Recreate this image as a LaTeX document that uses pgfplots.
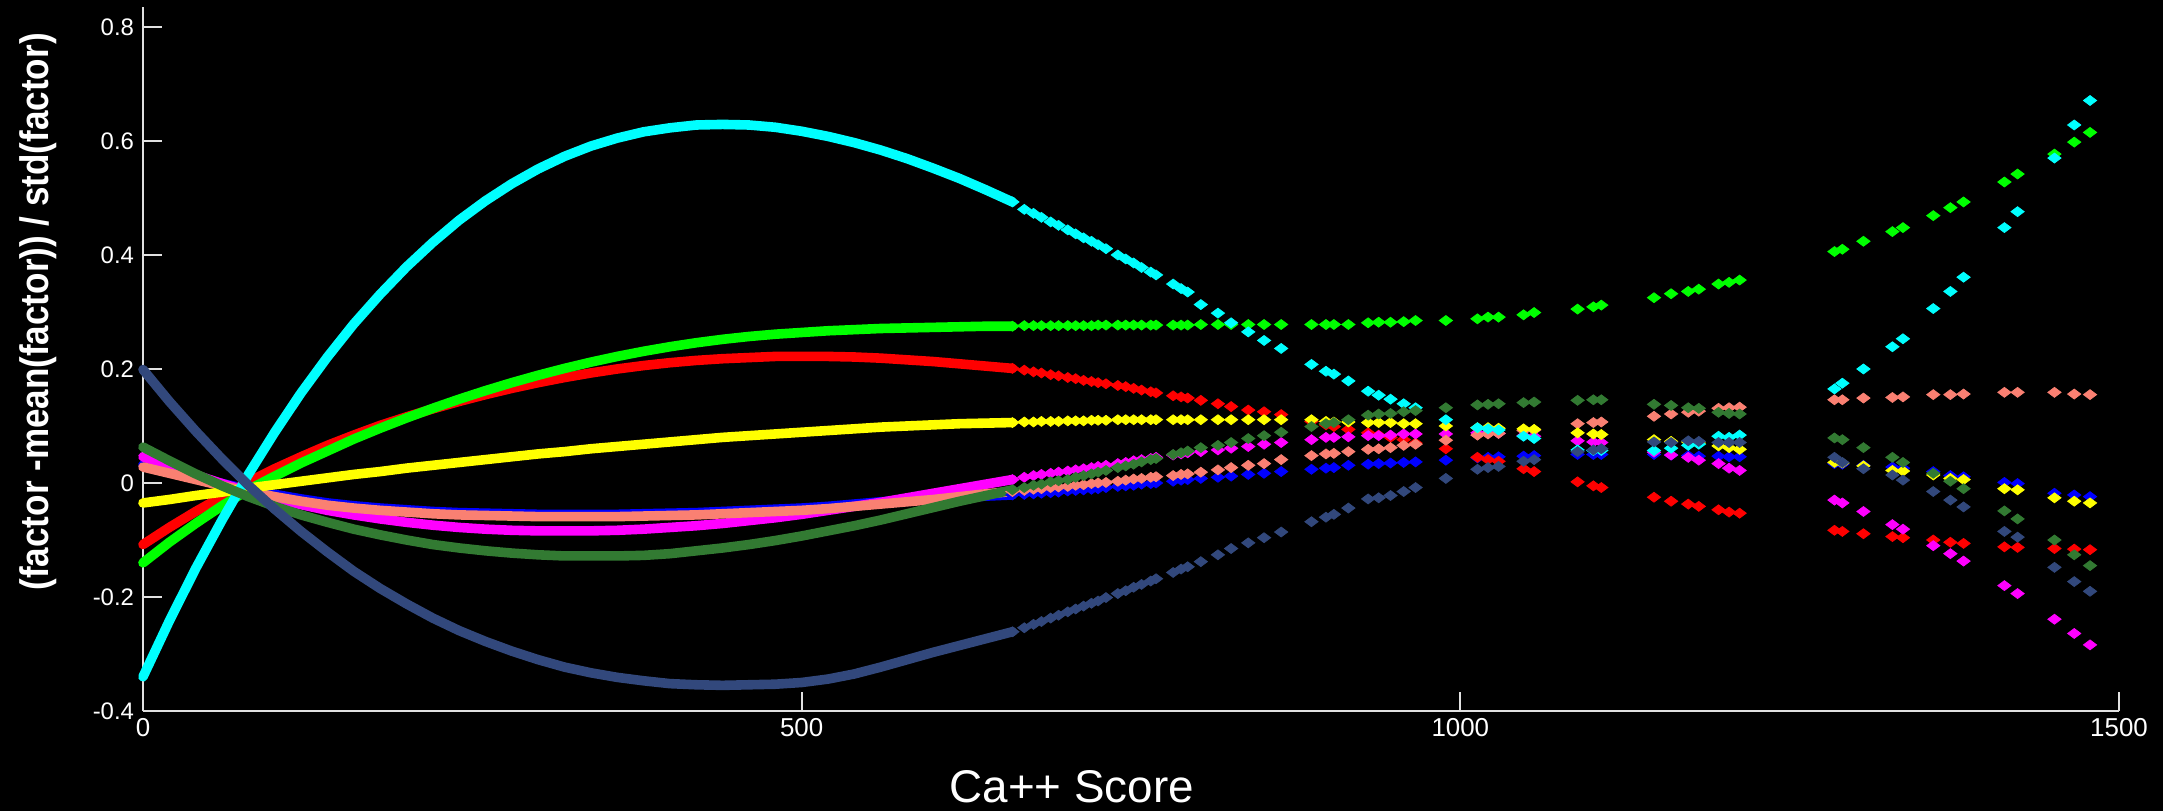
\documentclass[border=0pt]{standalone}
\usepackage{fontspec}
\setmainfont{Liberation Sans}
\newfontfamily\ylabfont[FakeStretch=0.88]{Liberation Sans}
\usepackage{pgfplots}
\usepackage{pgfplotstable}
\pgfplotsset{compat=1.18}
\definecolor{cCy}{RGB}{0,255,255}
\definecolor{cGr}{RGB}{0,255,0}
\definecolor{cRd}{RGB}{255,0,0}
\definecolor{cYe}{RGB}{255,255,0}
\definecolor{cMg}{RGB}{255,0,255}
\definecolor{cSa}{RGB}{250,128,114}
\definecolor{cBl}{RGB}{0,0,255}
\definecolor{cDg}{RGB}{50,122,50}
\definecolor{cNv}{RGB}{50,72,124}
\definecolor{axgray}{RGB}{225,225,225}

\pgfplotstableread{
x cy gr rd ye mg sa bl dg nv
0 -0.340 -0.140 -0.108 -0.035 0.046 0.028 0.032 0.063 0.199
20 -0.242 -0.104 -0.078 -0.029 0.030 0.017 0.021 0.039 0.143
40 -0.150 -0.071 -0.050 -0.022 0.014 0.006 0.010 0.016 0.091
60 -0.065 -0.040 -0.024 -0.016 -0.001 -0.005 -0.001 -0.005 0.042
80 0.015 -0.012 0.002 -0.009 -0.015 -0.015 -0.011 -0.024 -0.004
100 0.089 0.012 0.025 -0.003 -0.027 -0.024 -0.020 -0.041 -0.046
120 0.158 0.035 0.046 0.003 -0.038 -0.032 -0.028 -0.056 -0.085
140 0.221 0.056 0.066 0.009 -0.048 -0.039 -0.035 -0.069 -0.121
160 0.279 0.077 0.084 0.015 -0.056 -0.044 -0.040 -0.081 -0.155
180 0.331 0.096 0.101 0.020 -0.063 -0.048 -0.044 -0.091 -0.185
200 0.379 0.114 0.116 0.026 -0.069 -0.051 -0.047 -0.100 -0.212
220 0.422 0.131 0.130 0.031 -0.074 -0.054 -0.050 -0.108 -0.237
240 0.461 0.147 0.143 0.036 -0.078 -0.056 -0.052 -0.114 -0.259
260 0.495 0.162 0.155 0.041 -0.081 -0.057 -0.053 -0.119 -0.278
280 0.525 0.176 0.166 0.046 -0.083 -0.058 -0.054 -0.123 -0.295
300 0.551 0.189 0.176 0.051 -0.084 -0.059 -0.055 -0.126 -0.310
320 0.573 0.201 0.185 0.055 -0.084 -0.059 -0.055 -0.128 -0.323
340 0.591 0.212 0.193 0.060 -0.084 -0.059 -0.055 -0.128 -0.333
360 0.605 0.222 0.200 0.064 -0.083 -0.059 -0.055 -0.128 -0.341
380 0.616 0.231 0.206 0.068 -0.081 -0.058 -0.054 -0.127 -0.347
400 0.623 0.239 0.211 0.072 -0.078 -0.057 -0.053 -0.124 -0.352
420 0.628 0.246 0.215 0.076 -0.075 -0.056 -0.052 -0.119 -0.354
440 0.629 0.252 0.218 0.080 -0.071 -0.054 -0.050 -0.114 -0.355
460 0.628 0.257 0.220 0.083 -0.066 -0.052 -0.048 -0.108 -0.354
480 0.624 0.261 0.222 0.086 -0.061 -0.050 -0.046 -0.101 -0.353
500 0.617 0.264 0.222 0.089 -0.055 -0.048 -0.044 -0.093 -0.350
520 0.608 0.267 0.222 0.092 -0.048 -0.045 -0.041 -0.084 -0.344
540 0.597 0.269 0.221 0.095 -0.041 -0.041 -0.037 -0.075 -0.335
560 0.584 0.271 0.219 0.098 -0.034 -0.037 -0.033 -0.065 -0.323
580 0.569 0.272 0.216 0.100 -0.026 -0.033 -0.030 -0.054 -0.310
600 0.552 0.273 0.213 0.102 -0.018 -0.029 -0.027 -0.043 -0.297
620 0.534 0.274 0.209 0.104 -0.010 -0.024 -0.025 -0.032 -0.285
640 0.514 0.275 0.205 0.105 -0.002 -0.019 -0.023 -0.022 -0.273
660 0.493 0.275 0.201 0.106 0.006 -0.015 -0.021 -0.012 -0.261
}\dense

\pgfplotstableread{
x cy gr rd ye mg sa bl dg nv
660 0.493 0.275 0.201 0.106 0.006 -0.015 -0.021 -0.012 -0.261
669 0.480 0.276 0.198 0.107 0.010 -0.013 -0.020 -0.008 -0.254
676 0.473 0.276 0.195 0.107 0.013 -0.011 -0.019 -0.004 -0.248
682 0.466 0.276 0.193 0.108 0.015 -0.010 -0.018 -0.002 -0.243
689 0.458 0.276 0.190 0.108 0.017 -0.008 -0.017 0.002 -0.237
695 0.452 0.276 0.188 0.108 0.019 -0.007 -0.016 0.004 -0.232
702 0.444 0.276 0.185 0.109 0.021 -0.006 -0.014 0.006 -0.226
708 0.437 0.276 0.183 0.109 0.023 -0.004 -0.013 0.010 -0.221
714 0.430 0.276 0.180 0.109 0.025 -0.003 -0.012 0.013 -0.216
720 0.424 0.276 0.178 0.110 0.027 -0.001 -0.011 0.016 -0.211
725 0.418 0.277 0.176 0.110 0.029 0.000 -0.010 0.019 -0.207
731 0.411 0.277 0.174 0.110 0.031 0.001 -0.008 0.022 -0.201
740 0.400 0.277 0.171 0.111 0.034 0.003 -0.006 0.027 -0.194
746 0.393 0.277 0.169 0.111 0.036 0.005 -0.005 0.030 -0.189
752 0.386 0.277 0.166 0.111 0.039 0.007 -0.004 0.033 -0.183
758 0.378 0.277 0.163 0.111 0.041 0.008 -0.002 0.037 -0.178
765 0.370 0.277 0.160 0.111 0.043 0.010 -0.001 0.041 -0.172
769 0.365 0.277 0.158 0.111 0.045 0.011 0.000 0.043 -0.168
782 0.349 0.277 0.153 0.111 0.049 0.013 0.003 0.050 -0.157
788 0.341 0.277 0.151 0.111 0.051 0.015 0.005 0.053 -0.151
793 0.335 0.277 0.149 0.111 0.053 0.016 0.006 0.056 -0.147
803 0.313 0.278 0.145 0.111 0.055 0.019 0.008 0.062 -0.138
816 0.298 0.278 0.139 0.111 0.058 0.023 0.010 0.066 -0.126
826 0.281 0.278 0.134 0.111 0.061 0.027 0.012 0.071 -0.115
839 0.265 0.278 0.128 0.111 0.064 0.031 0.015 0.078 -0.105
851 0.250 0.278 0.125 0.111 0.068 0.034 0.017 0.083 -0.096
864 0.236 0.278 0.120 0.111 0.071 0.041 0.020 0.089 -0.086
887 0.208 0.278 0.108 0.111 0.076 0.048 0.024 0.099 -0.068
898 0.196 0.278 0.102 0.108 0.080 0.051 0.026 0.104 -0.060
904 0.191 0.278 0.099 0.107 0.080 0.052 0.027 0.106 -0.055
915 0.179 0.278 0.094 0.107 0.081 0.055 0.031 0.111 -0.044
930 0.161 0.281 0.088 0.106 0.083 0.059 0.033 0.119 -0.028
938 0.154 0.282 0.084 0.106 0.083 0.060 0.034 0.121 -0.026
947 0.147 0.282 0.080 0.106 0.084 0.062 0.035 0.122 -0.022
957 0.139 0.283 0.076 0.104 0.086 0.066 0.036 0.125 -0.015
966 0.132 0.285 0.070 0.104 0.086 0.068 0.037 0.127 -0.008
989 0.111 0.285 0.060 0.100 0.086 0.075 0.040 0.132 0.008
1013 0.097 0.288 0.045 0.097 0.088 0.084 0.044 0.137 0.024
1021 0.095 0.291 0.041 0.097 0.088 0.086 0.045 0.138 0.027
1029 0.093 0.291 0.038 0.096 0.087 0.087 0.046 0.139 0.029
1048 0.082 0.295 0.025 0.095 0.083 0.092 0.047 0.141 0.038
1056 0.078 0.299 0.020 0.094 0.082 0.093 0.048 0.142 0.041
1089 0.058 0.305 0.002 0.088 0.074 0.104 0.050 0.145 0.055
1101 0.057 0.309 -0.005 0.086 0.072 0.106 0.050 0.146 0.058
1107 0.057 0.312 -0.008 0.085 0.071 0.107 0.050 0.146 0.060
1147 0.057 0.325 -0.025 0.076 0.054 0.117 0.050 0.138 0.072
1160 0.061 0.332 -0.032 0.073 0.049 0.121 0.049 0.136 0.071
1173 0.066 0.336 -0.037 0.072 0.045 0.124 0.048 0.132 0.074
1181 0.068 0.340 -0.041 0.070 0.040 0.126 0.047 0.131 0.073
1196 0.082 0.349 -0.047 0.065 0.034 0.131 0.047 0.124 0.071
1204 0.080 0.352 -0.051 0.062 0.026 0.132 0.046 0.122 0.071
1212 0.084 0.356 -0.053 0.059 0.022 0.133 0.046 0.121 0.071
1284 0.165 0.406 -0.083 0.036 -0.030 0.146 0.034 0.079 0.045
1290 0.175 0.410 -0.085 0.035 -0.035 0.146 0.033 0.076 0.036
1306 0.200 0.424 -0.089 0.030 -0.050 0.149 0.031 0.062 0.025
1328 0.239 0.441 -0.094 0.022 -0.073 0.150 0.028 0.045 0.014
1336 0.253 0.448 -0.096 0.021 -0.081 0.151 0.026 0.036 0.005
1359 0.306 0.469 -0.100 0.014 -0.110 0.155 0.020 0.017 -0.015
1372 0.336 0.483 -0.104 0.008 -0.124 0.155 0.013 0.003 -0.030
1382 0.361 0.493 -0.106 0.006 -0.137 0.156 0.011 -0.010 -0.042
1413 0.448 0.528 -0.112 -0.010 -0.180 0.159 0.001 -0.049 -0.085
1423 0.476 0.542 -0.113 -0.012 -0.194 0.159 -0.001 -0.063 -0.095
1451 0.570 0.577 -0.115 -0.026 -0.239 0.159 -0.018 -0.100 -0.148
1466 0.628 0.598 -0.116 -0.032 -0.264 0.156 -0.021 -0.126 -0.173
1478 0.671 0.615 -0.117 -0.035 -0.284 0.155 -0.024 -0.145 -0.190
}\marks

\pgfplotsset{
  rib/.style={draw=#1, line width=4.8bp, line cap=round, line join=round, no markers},
  dots/.style={only marks, color=#1, mark=diamond*, mark size=3.3bp,
    mark options={rotate=90, draw=none, fill=#1}},
}

\begin{document}
\begin{tikzpicture}
\fill[black] (-71.5bp,-50bp) rectangle (1010bp,355.5bp);
\useasboundingbox (-71.5bp,-50bp) rectangle (1010bp,355.5bp);
\begin{axis}[
  at={(0,0)}, anchor=south west,
  scale only axis, width=988bp, height=352bp,
  xmin=0, xmax=1500, ymin=-0.4, ymax=0.835,
  axis lines=left,
  axis line style={-, draw=axgray, line width=1.3bp},
  tick style={draw=axgray, line width=0.9bp},
  major tick length=9.5bp, tick align=inside,
  xtick={0,500,1000,1500},
  ytick={-0.4,-0.2,0,0.2,0.4,0.6,0.8},
  scaled ticks=false,
  /pgf/number format/assume math mode=true,
  /pgf/number format/1000 sep={},
  xticklabel style={font=\fontsize{13}{15}\selectfont, text=white},
  yticklabel style={font=\fontsize{12}{14}\selectfont, text=white, xshift=-1bp},
  xlabel={Ca++ Score},
  xlabel style={font=\fontsize{23}{26}\selectfont, text=white,
    at={(axis description cs:0.47,-0.108)}, anchor=center},
  ylabel={(factor -mean(factor)) / std(factor)},
  ylabel style={font=\ylabfont\bfseries\fontsize{20}{22}\selectfont, text=white,
    at={(axis description cs:-0.053,0.567)}, anchor=center},
  clip=false,
]
\addplot[rib=cBl] table[x=x,y=bl]{\dense};
\addplot[dots=cBl] table[x=x,y=bl]{\marks};
\addplot[rib=cRd] table[x=x,y=rd]{\dense};
\addplot[dots=cRd] table[x=x,y=rd]{\marks};
\addplot[rib=cGr] table[x=x,y=gr]{\dense};
\addplot[dots=cGr] table[x=x,y=gr]{\marks};
\addplot[rib=cMg] table[x=x,y=mg]{\dense};
\addplot[dots=cMg] table[x=x,y=mg]{\marks};
\addplot[rib=cSa] table[x=x,y=sa]{\dense};
\addplot[dots=cSa] table[x=x,y=sa]{\marks};
\addplot[rib=cYe] table[x=x,y=ye]{\dense};
\addplot[dots=cYe] table[x=x,y=ye]{\marks};
\addplot[rib=cCy] table[x=x,y=cy]{\dense};
\addplot[dots=cCy] table[x=x,y=cy]{\marks};
\addplot[rib=cDg] table[x=x,y=dg]{\dense};
\addplot[dots=cDg] table[x=x,y=dg]{\marks};
\addplot[rib=cNv] table[x=x,y=nv]{\dense};
\addplot[dots=cNv] table[x=x,y=nv]{\marks};
\end{axis}
\end{tikzpicture}
\end{document}
